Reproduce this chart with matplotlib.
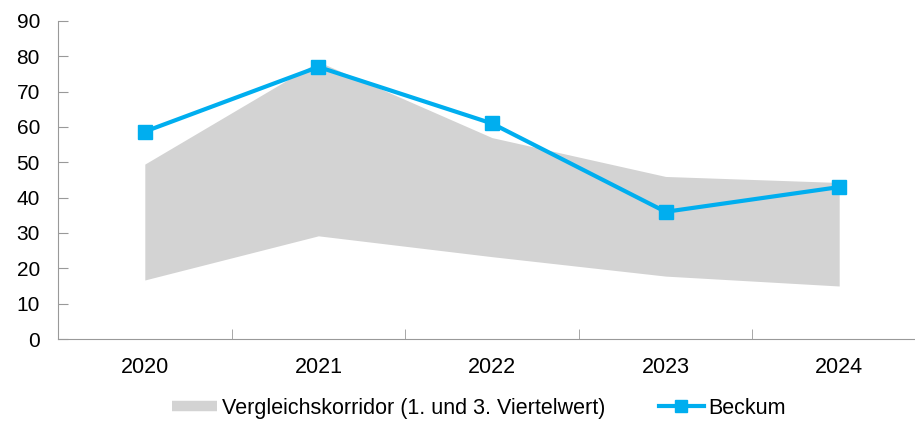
import matplotlib
matplotlib.use("Agg")
import numpy as np
import matplotlib.pyplot as plt
from matplotlib.lines import Line2D

plt.rcParams['font.family'] = ['Liberation Sans', 'DejaVu Sans']

years = ['2020', '2021', '2022', '2023', '2024']
q1 = [16.7, 29.2, 23.3, 17.8, 15.0]
q3 = [49.5, 78.5, 57.0, 46.0, 44.3]
beckum = [58.7, 77.0, 61.0, 36.0, 43.0]

blue = '#00AEEF'
grey = '#D3D3D3'

fig = plt.figure(figsize=(9.15, 4.23), dpi=100)
ax = fig.add_axes([58 / 915, (423 - 339) / 423, (926 - 58) / 915, (339 - 21) / 423])

x = np.arange(len(years))
ax.fill_between(x, q1, q3, color=grey, linewidth=0)
ax.plot(x, beckum, color=blue, lw=3, marker='s', ms=10.5, zorder=3)

ax.set_xlim(-0.5, len(years) - 0.5)
ax.set_ylim(0, 90)
ax.set_yticks(range(0, 91, 10))
ax.set_xticks(x)
ax.set_xticklabels(years)
ax.set_xticks(np.arange(0.5, len(years) - 0.5, 1), minor=True)
ax.tick_params(axis='x', which='major', length=0, pad=13, labelsize=15.5)
ax.tick_params(axis='x', which='minor', direction='in', length=7, color='#999999')
ax.tick_params(axis='y', direction='in', length=7, color='#999999', labelsize=15, pad=13)
for s in ['top', 'right']:
    ax.spines[s].set_visible(False)
for s in ['left', 'bottom']:
    ax.spines[s].set_color('#999999')

handles = [Line2D([], [], color=grey, lw=7.5, solid_capstyle='butt'),
           Line2D([], [], color=blue, lw=3, marker='s', ms=8)]
labels = ['Vergleichskorridor (1. und 3. Viertelwert)', 'Beckum']
fig.legend(handles, labels, loc='center', bbox_to_anchor=(479 / 915, 1 - 408 / 423),
           ncol=2, frameon=False, fontsize=15.5, handlelength=2.1, handletextpad=0.2,
           columnspacing=2.5)

fig.savefig('out.png', dpi=100)
